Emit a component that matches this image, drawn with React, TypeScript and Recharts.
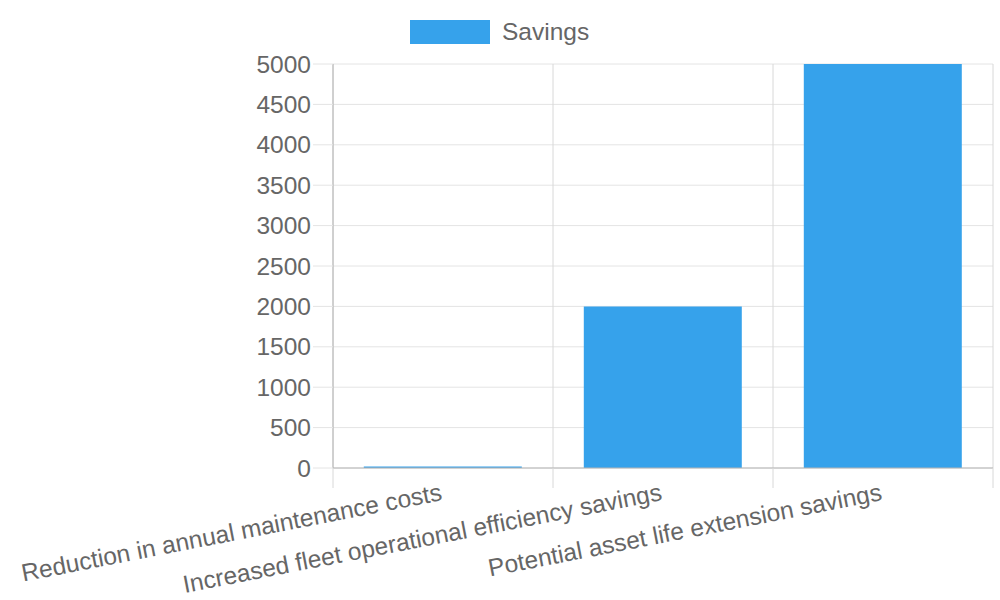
import React from 'react';
import { BarChart, Bar, XAxis, YAxis, CartesianGrid } from 'recharts';

const categories = [
  'Reduction in annual maintenance costs',
  'Increased fleet operational efficiency savings',
  'Potential asset life extension savings',
];
const savings = [20, 2000, 5000];
const yTicks = [0, 500, 1000, 1500, 2000, 2500, 3000, 3500, 4000, 4500, 5000];

const data = categories.map((name, i) => ({ name, savings: savings[i] }));

const W = 1000;
const H = 600;
const margin = { top: 64, right: 7, left: 0, bottom: 0 };
const Y_W = 333;
const X_H = 132;
const PLOT_W = W - margin.left - margin.right - Y_W;
const BAND = PLOT_W / categories.length;

const font = '"Liberation Sans", Arial, sans-serif';
const FS = 24.5;
const textColor = '#666';
const gridColor = '#e4e4e4';
const vGridColor = '#d8d8d8';
const axisColor = '#b4b4b4';

const XTick = (props: any) => {
  const { x, y, payload, index } = props;
  const axisY = y - 20;
  return (
    <g>
      <line x1={x - BAND / 2} x2={x - BAND / 2} y1={axisY} y2={axisY + 20} stroke={vGridColor} />
      {index === categories.length - 1 && (
        <line x1={x + BAND / 2} x2={x + BAND / 2} y1={axisY} y2={axisY + 20} stroke={vGridColor} />
      )}
      <text
        x={0}
        y={0}
        transform={`translate(${x}, ${y + 12}) rotate(-11)`}
        textAnchor="end"
        fill={textColor}
        fontSize={FS}
        fontFamily={font}
      >
        {payload.value}
      </text>
    </g>
  );
};

const YTick = (props: any) => {
  const { x, y, payload } = props;
  return (
    <text x={x} y={y} dy={8.5} textAnchor="end" fill={textColor} fontSize={FS} fontFamily={font}>
      {payload.value}
    </text>
  );
};

export default function App() {
  return (
    <div style={{ position: 'absolute', left: 0, top: 0, width: W, height: H, background: '#fff' }}>
      <div
        style={{
          position: 'absolute',
          left: 410,
          top: 20,
          height: 24,
          display: 'flex',
          alignItems: 'center',
          fontFamily: font,
          fontSize: FS,
          color: textColor,
        }}
      >
        <span style={{ display: 'inline-block', width: 80, height: 24, background: '#36a2eb', marginRight: 12 }} />
        <span>Savings</span>
      </div>
      <BarChart width={W} height={H} data={data} margin={margin} barCategoryGap="14%">
        <CartesianGrid stroke={gridColor} vertical={false} />
        <CartesianGrid
          stroke={vGridColor}
          horizontal={false}
          verticalCoordinatesGenerator={({ offset }: any) =>
            categories.map((_, i) => offset.left + i * (offset.width / categories.length)).concat(offset.left + offset.width)
          }
        />
        <XAxis
          dataKey="name"
          height={X_H}
          interval={0}
          tickLine={false}
          tickSize={20}
          tickMargin={0}
          axisLine={{ stroke: axisColor }}
          tick={<XTick />}
        />
        <YAxis
          width={Y_W}
          domain={[0, 5000]}
          ticks={yTicks}
          interval={0}
          tickSize={20}
          tickMargin={2}
          axisLine={{ stroke: axisColor }}
          tickLine={{ stroke: gridColor }}
          tick={<YTick />}
        />
        <Bar dataKey="savings" fill="#36a2eb" isAnimationActive={false} />
      </BarChart>
    </div>
  );
}
